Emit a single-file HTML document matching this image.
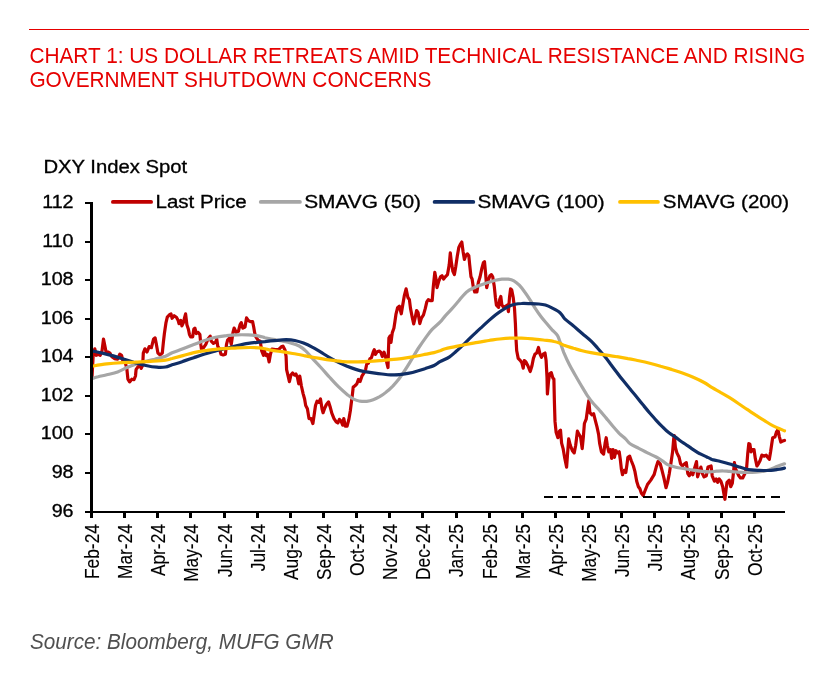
<!DOCTYPE html>
<html><head><meta charset="utf-8"><title>Chart 1</title>
<style>
html,body{margin:0;padding:0;background:#fff;}
body{width:840px;height:689px;position:relative;overflow:hidden;font-family:"Liberation Sans",Arial,sans-serif;}
.rule{position:absolute;left:29px;top:29px;width:780px;height:1px;background:#e60000;}
svg text{white-space:pre;}
</style></head><body>
<div class="rule"></div>
<svg width="840" height="689" viewBox="0 0 840 689" style="position:absolute;left:0;top:0">
<g font-family="Liberation Sans, Arial, sans-serif" font-size="20.83" fill="#e60000"><text transform="translate(29.4,62.95) scale(1,1.05)">CHART 1: US DOLLAR RETREATS AMID TECHNICAL RESISTANCE AND RISING</text><text transform="translate(29.4,86.9) scale(1,1.05)">GOVERNMENT SHUTDOWN CONCERNS</text></g><text transform="translate(30,649.4) scale(1,1.05)" font-family="Liberation Sans, Arial, sans-serif" font-size="20.7" font-style="italic" fill="#505050">Source: Bloomberg, MUFG GMR</text>
<g fill="none" stroke-linejoin="round" stroke-linecap="round" stroke-width="3.2">
<path d="M92.0 377.1 L93.3 353.1 L94.8 348.8 L96.3 355.3 L98.1 354.2 L100.2 355.3 L102.0 350.9 L103.5 339.0 L105.0 346.6 L106.3 353.1 L107.9 352.0 L110.0 353.1 L111.6 356.4 L114.4 358.6 L117.6 359.2 L119.8 354.2 L121.6 355.3 L123.1 361.8 L125.3 362.9 L126.8 368.4 L127.9 379.2 L129.6 381.9 L131.8 379.2 L134.0 379.7 L135.5 376.0 L136.1 369.4 L137.7 367.3 L139.4 362.9 L141.2 368.4 L142.7 365.1 L143.3 353.1 L144.9 348.8 L147.0 352.0 L149.2 346.6 L151.4 347.7 L153.6 339.0 L155.1 337.9 L156.4 344.4 L157.9 353.1 L160.1 354.9 L162.3 353.1 L163.4 342.2 L164.4 333.5 L166.0 322.6 L167.3 317.2 L169.9 314.4 L171.0 313.9 L172.1 318.3 L174.2 315.7 L176.4 317.2 L178.2 320.5 L179.0 323.7 L180.8 320.5 L181.9 325.9 L183.4 322.6 L184.7 317.2 L185.6 313.9 L186.9 324.8 L188.4 329.2 L189.5 334.6 L190.6 336.8 L192.7 336.8 L193.8 329.2 L194.9 328.1 L196.4 333.5 L198.2 332.4 L199.9 334.6 L200.8 344.4 L201.4 348.8 L203.6 347.7 L205.8 344.4 L208.0 339.0 L210.2 336.1 L211.2 341.1 L213.4 343.3 L215.6 342.2 L216.7 339.0 L217.8 346.6 L219.5 348.8 L221.0 354.2 L223.2 354.9 L225.4 354.2 L226.5 344.4 L227.6 340.1 L229.7 337.9 L231.3 344.4 L233.0 332.4 L234.1 328.1 L236.3 332.4 L238.4 331.4 L240.0 324.8 L241.3 322.6 L242.8 328.1 L245.0 327.0 L246.5 317.9 L248.2 320.5 L250.4 321.6 L252.6 321.6 L253.7 327.0 L254.8 333.5 L255.9 336.8 L258.0 340.1 L260.2 341.1 L261.7 350.9 L263.5 355.3 L264.4 351.1 L266.1 355.5 L267.6 354.4 L269.1 362.0 L270.4 354.4 L272.0 349.0 L275.2 349.6 L278.5 349.6 L281.3 346.8 L282.9 346.1 L285.0 350.1 L286.1 356.6 L286.6 369.6 L287.9 375.1 L289.4 381.6 L290.9 375.1 L292.6 372.9 L294.4 375.1 L295.9 374.0 L297.4 377.3 L298.7 383.8 L299.8 376.2 L301.4 386.0 L303.1 393.6 L304.6 399.0 L305.7 405.6 L307.4 408.8 L309.0 418.6 L311.1 418.6 L312.9 423.6 L314.4 413.2 L315.5 405.6 L317.0 401.2 L318.8 402.3 L320.5 399.0 L322.0 408.8 L323.1 412.7 L324.9 407.7 L326.4 404.5 L328.6 401.9 L330.1 406.7 L331.8 413.2 L334.0 418.6 L336.2 421.9 L337.9 423.0 L339.4 419.3 L341.0 420.8 L342.7 425.2 L343.8 418.6 L345.3 426.2 L347.1 426.2 L348.8 419.7 L350.3 411.0 L351.4 402.3 L352.5 393.6 L353.2 387.1 L354.7 386.0 L356.9 383.8 L358.4 379.4 L360.1 381.6 L361.9 376.2 L364.0 372.9 L365.6 369.6 L366.7 364.2 L368.4 363.1 L369.9 358.8 L371.4 357.7 L373.2 352.2 L374.3 349.6 L375.4 354.4 L377.1 351.8 L379.3 351.1 L380.8 352.2 L382.3 356.6 L384.1 352.2 L385.8 357.7 L386.9 363.1 L388.0 367.5 L388.4 352.2 L388.9 338.1 L390.2 335.9 L391.0 342.4 L392.3 332.6 L393.9 328.3 L394.9 321.8 L396.0 314.1 L397.6 307.6 L399.3 306.1 L401.3 313.8 L402.9 304.0 L404.4 295.3 L406.1 288.8 L407.9 297.5 L409.4 299.6 L410.5 308.4 L412.2 317.1 L413.7 324.0 L415.3 317.1 L416.6 310.5 L418.1 312.7 L419.8 323.6 L421.4 318.1 L423.5 314.9 L425.3 308.4 L426.8 301.8 L428.3 299.6 L430.5 300.7 L432.2 300.7 L433.3 286.6 L434.8 272.4 L436.2 280.1 L437.0 287.7 L438.8 281.1 L440.5 276.8 L442.0 275.7 L443.6 279.0 L445.3 276.8 L447.5 274.6 L449.2 264.8 L450.3 252.9 L451.4 262.6 L452.9 271.4 L454.4 274.6 L455.7 267.0 L457.3 256.1 L458.8 247.4 L460.5 244.1 L461.8 242.0 L463.1 251.8 L464.4 259.4 L466.0 255.0 L467.5 253.9 L468.8 255.7 L469.7 264.8 L471.0 276.8 L472.1 279.0 L473.2 286.6 L474.7 292.0 L476.9 292.0 L478.4 282.2 L480.1 276.8 L481.9 268.1 L483.4 262.6 L484.5 261.6 L485.6 273.5 L486.7 287.7 L488.4 280.1 L489.9 275.7 L491.4 274.6 L492.7 276.8 L494.3 286.6 L495.4 297.5 L496.4 305.1 L498.6 307.3 L499.7 299.6 L500.8 296.4 L501.9 305.1 L503.6 307.3 L505.8 306.2 L507.3 305.1 L508.4 311.6 L509.5 297.5 L510.6 288.8 L511.7 289.9 L513.2 297.5 L514.5 308.4 L515.4 323.6 L516.0 338.8 L516.7 350.8 L518.2 358.4 L520.4 360.6 L521.9 362.8 L523.2 368.2 L524.3 360.6 L525.8 361.7 L528.0 366.0 L530.2 371.5 L531.9 366.0 L533.4 358.4 L535.0 354.1 L536.7 353.0 L538.5 347.5 L540.0 354.1 L541.5 357.3 L543.2 354.1 L545.0 353.0 L546.1 360.6 L547.0 377.1 L547.4 394.0 L548.5 381.4 L549.6 373.8 L551.3 372.7 L552.9 378.1 L553.9 379.2 L554.4 401.8 L555.0 421.4 L556.1 432.2 L557.9 437.7 L559.4 431.1 L560.5 430.1 L561.6 443.1 L563.1 448.6 L564.8 458.4 L566.6 467.1 L567.4 456.2 L568.7 438.8 L570.3 445.3 L572.4 450.7 L574.2 452.9 L575.7 445.3 L577.4 431.1 L579.0 434.4 L580.5 436.6 L582.2 448.6 L583.3 437.7 L584.4 423.5 L586.2 419.2 L587.7 408.3 L588.8 400.7 L589.9 412.6 L592.0 414.8 L593.6 413.7 L595.3 420.3 L597.0 426.8 L598.6 434.4 L599.6 443.1 L601.4 451.8 L603.6 454.0 L605.1 443.1 L606.2 437.7 L607.3 445.3 L608.8 451.8 L610.5 449.6 L611.6 458.4 L613.1 449.6 L614.4 457.3 L616.0 450.7 L617.5 452.9 L619.2 451.8 L620.3 459.4 L621.4 469.2 L622.5 474.7 L624.0 470.3 L625.8 472.5 L626.9 464.9 L627.9 457.3 L629.7 456.2 L631.2 460.5 L633.4 466.0 L634.9 471.4 L636.7 481.2 L638.4 486.7 L639.9 488.8 L641.4 493.2 L643.2 495.4 L644.9 491.0 L647.5 484.5 L650.8 480.1 L654.1 474.7 L656.2 467.1 L658.0 461.6 L660.2 463.8 L661.7 469.2 L663.9 477.9 L666.0 487.7 L667.6 482.3 L669.3 473.6 L671.0 462.7 L672.6 451.8 L673.7 438.8 L674.3 435.5 L675.4 447.5 L676.9 452.9 L679.1 457.3 L680.6 463.8 L682.4 466.0 L684.5 463.8 L686.3 462.7 L687.8 473.6 L689.3 475.8 L691.1 472.5 L692.8 474.7 L694.3 469.2 L696.5 461.6 L697.6 476.9 L699.3 471.4 L700.9 467.1 L702.4 473.6 L704.1 476.9 L706.3 475.8 L708.0 467.1 L711.1 466.0 L712.2 475.8 L714.4 481.2 L716.2 479.0 L717.7 482.3 L719.2 479.0 L720.9 481.2 L722.7 486.7 L723.8 493.2 L724.9 499.3 L725.9 491.0 L727.0 482.3 L729.2 480.1 L730.7 486.7 L732.3 483.4 L733.6 471.4 L734.4 462.7 L735.7 469.2 L737.3 472.5 L738.8 475.8 L740.5 477.9 L742.7 477.9 L744.9 473.6 L746.6 468.1 L747.7 454.0 L748.8 443.6 L749.9 444.2 L751.0 451.8 L752.5 449.6 L754.0 449.6 L755.3 458.4 L756.9 466.0 L758.4 463.8 L760.1 460.5 L761.9 455.1 L764.0 456.2 L766.2 455.1 L767.7 457.3 L769.3 459.4 L770.6 451.8 L771.7 444.2 L772.7 437.7 L774.9 437.0 L776.4 432.2 L778.0 429.6 L779.3 436.6 L780.8 442.0 L783.0 440.9 L784.5 440.5" stroke="#c00000"/>
<path d="M92.0 378.6 C93.0 378.3 95.6 377.3 98.1 376.7 C100.5 376.0 103.5 375.6 106.8 374.8 C110.0 374.0 114.4 373.1 117.6 371.9 C120.9 370.7 123.5 369.1 126.4 367.8 C129.3 366.6 132.2 365.4 135.1 364.4 C138.0 363.4 140.5 362.8 143.8 361.9 C147.0 361.1 151.0 360.2 154.6 359.3 C158.3 358.3 162.6 357.3 165.5 356.3 C168.4 355.2 169.2 354.1 172.1 352.8 C175.0 351.6 179.3 350.2 182.9 348.8 C186.6 347.4 190.2 345.9 193.8 344.5 C197.5 343.1 201.1 341.6 204.7 340.4 C208.3 339.2 212.0 338.0 215.6 337.2 C219.2 336.4 222.8 336.1 226.5 335.7 C230.1 335.2 233.7 334.9 237.4 334.8 C241.0 334.7 244.6 334.7 248.2 334.9 C251.9 335.1 256.3 335.6 259.1 336.1 C261.9 336.6 262.7 337.1 265.0 337.7 C267.3 338.2 270.3 338.8 273.1 339.4 C275.9 340.0 278.9 340.4 281.8 341.0 C284.7 341.6 287.6 342.0 290.5 342.9 C293.4 343.7 296.6 344.6 299.2 346.0 C301.7 347.3 303.5 348.8 305.7 350.9 C307.9 352.9 309.7 355.5 312.2 358.2 C314.8 361.0 318.0 364.3 320.9 367.5 C323.8 370.6 326.7 374.1 329.6 377.3 C332.6 380.5 335.5 383.8 338.4 386.7 C341.3 389.5 344.5 392.3 347.1 394.4 C349.6 396.4 351.4 398.0 353.6 399.1 C355.8 400.2 357.9 400.8 360.1 401.2 C362.3 401.5 364.5 401.5 366.7 401.3 C368.8 401.0 371.0 400.5 373.2 399.7 C375.4 398.9 377.5 397.8 379.7 396.6 C381.9 395.3 384.1 393.9 386.2 392.1 C388.4 390.4 390.6 388.4 392.8 386.1 C394.9 383.8 397.1 381.2 399.3 378.4 C401.5 375.5 403.7 372.3 405.8 368.9 C408.0 365.5 410.2 361.7 412.4 358.2 C414.5 354.6 416.7 350.8 418.9 347.5 C421.1 344.2 423.2 341.1 425.4 338.1 C427.6 335.1 429.5 332.3 431.9 329.7 C434.4 327.0 437.8 324.5 440.0 322.2 C442.2 319.9 443.3 318.0 445.3 315.8 C447.3 313.6 449.6 311.3 451.8 308.9 C454.0 306.5 456.4 303.6 458.4 301.3 C460.4 298.9 462.0 296.6 463.8 294.8 C465.6 292.9 467.2 291.4 469.2 290.1 C471.2 288.8 473.6 287.8 475.8 286.9 C477.9 285.9 480.1 285.2 482.3 284.4 C484.5 283.6 486.7 282.9 488.8 282.2 C491.0 281.6 493.2 280.8 495.4 280.3 C497.5 279.8 499.7 279.4 501.9 279.2 C504.1 279.1 506.4 279.0 508.4 279.2 C510.4 279.5 512.0 279.9 513.9 280.9 C515.7 281.9 517.5 283.4 519.3 285.2 C521.1 287.1 522.9 289.5 524.7 292.0 C526.6 294.5 528.4 297.4 530.2 300.2 C532.0 303.0 533.8 306.1 535.6 308.9 C537.4 311.7 539.3 314.4 541.1 316.8 C542.9 319.2 544.7 321.2 546.5 323.3 C548.3 325.5 550.1 327.6 551.9 329.6 C553.8 331.6 556.0 333.2 557.4 335.3 C558.7 337.3 558.9 339.0 560.0 341.9 C561.1 344.7 562.2 348.5 563.7 352.3 C565.3 356.0 567.2 360.3 569.2 364.3 C571.2 368.2 573.5 372.2 575.7 376.0 C577.9 379.8 580.2 383.8 582.2 387.1 C584.2 390.5 585.9 393.4 587.7 396.1 C589.5 398.8 591.1 400.8 593.1 403.2 C595.1 405.5 597.5 407.8 599.6 410.3 C601.8 412.7 604.0 415.5 606.2 418.1 C608.4 420.8 610.5 423.5 612.7 426.0 C614.9 428.6 617.1 431.1 619.2 433.3 C621.4 435.5 624.0 437.4 625.8 439.2 C627.6 440.9 627.9 442.2 630.1 443.7 C632.3 445.2 635.9 446.8 638.8 448.3 C641.7 449.8 644.6 451.5 647.5 452.9 C650.4 454.4 653.7 455.6 656.2 457.0 C658.8 458.4 660.8 459.8 662.8 461.1 C664.8 462.4 666.0 463.9 668.2 464.9 C670.4 465.9 673.1 466.6 675.8 467.2 C678.5 467.9 681.6 468.2 684.5 468.7 C687.4 469.2 690.3 469.8 693.2 470.2 C696.1 470.7 699.2 471.1 701.9 471.4 C704.7 471.7 707.6 471.9 710.0 471.9 C712.4 471.8 714.4 471.4 716.6 471.2 C718.8 471.0 720.9 470.7 723.1 470.8 C725.3 470.8 727.1 471.2 729.6 471.4 C732.2 471.7 735.5 472.0 738.4 472.2 C741.3 472.4 744.2 472.5 747.1 472.5 C750.0 472.5 752.9 472.5 755.8 472.2 C758.7 472.0 761.9 471.7 764.5 471.1 C767.0 470.6 768.8 469.8 771.0 469.0 C773.2 468.1 775.3 467.1 777.5 466.2 C779.8 465.4 783.3 464.2 784.5 463.8" stroke="#a6a6a6"/>
<path d="M92.0 350.9 C93.7 351.3 98.9 352.2 102.4 353.1 C106.0 353.9 109.7 354.9 113.3 355.9 C116.9 357.0 120.6 358.2 124.2 359.3 C127.8 360.4 131.4 361.7 135.1 362.7 C138.7 363.7 142.3 364.8 145.9 365.5 C149.6 366.3 153.6 367.0 156.8 367.2 C160.1 367.5 163.0 367.4 165.5 367.0 C168.1 366.7 169.2 365.8 172.1 364.8 C175.0 363.9 179.3 362.6 182.9 361.4 C186.6 360.3 190.2 358.9 193.8 357.7 C197.5 356.4 201.1 355.1 204.7 354.0 C208.3 352.9 212.0 351.9 215.6 350.9 C219.2 350.0 222.8 349.2 226.5 348.3 C230.1 347.4 233.7 346.4 237.4 345.6 C241.0 344.8 244.6 344.0 248.2 343.4 C251.9 342.8 256.3 342.4 259.1 342.1 C261.9 341.8 263.4 341.7 265.0 341.6 C266.6 341.4 266.6 341.4 268.7 341.1 C270.8 340.9 274.5 340.5 277.4 340.3 C280.3 340.0 283.2 339.7 286.1 339.7 C289.0 339.8 291.9 340.0 294.8 340.5 C297.7 341.1 300.6 341.9 303.5 343.0 C306.4 344.1 309.3 345.5 312.2 347.1 C315.1 348.6 318.0 350.5 320.9 352.2 C323.8 354.0 326.7 355.9 329.6 357.6 C332.6 359.3 335.5 360.9 338.4 362.4 C341.3 363.8 344.2 365.1 347.1 366.3 C350.0 367.4 352.9 368.5 355.8 369.4 C358.7 370.3 361.6 371.0 364.5 371.6 C367.4 372.1 370.3 372.5 373.2 372.9 C376.1 373.3 379.0 373.7 381.9 374.0 C384.8 374.3 387.7 374.7 390.6 374.8 C393.5 374.9 396.4 374.9 399.3 374.7 C402.2 374.5 405.1 374.0 408.0 373.4 C410.9 372.8 413.8 372.1 416.7 371.2 C419.6 370.4 422.5 369.4 425.4 368.5 C428.3 367.5 431.7 366.6 434.1 365.5 C436.6 364.3 437.4 363.2 440.0 361.7 C442.6 360.3 447.0 358.5 449.6 356.8 C452.3 355.0 454.0 353.2 456.2 351.3 C458.4 349.4 460.5 347.4 462.7 345.4 C464.9 343.3 467.1 341.0 469.2 338.8 C471.4 336.7 473.6 334.6 475.8 332.6 C477.9 330.5 480.1 328.6 482.3 326.6 C484.5 324.6 486.7 322.5 488.8 320.6 C491.0 318.7 493.2 316.8 495.4 315.0 C497.5 313.3 499.7 311.7 501.9 310.3 C504.1 308.9 506.2 307.6 508.4 306.6 C510.6 305.6 512.8 304.9 514.9 304.3 C517.1 303.8 518.9 303.6 521.5 303.5 C524.0 303.3 527.3 303.5 530.2 303.6 C533.1 303.7 536.3 303.8 538.9 304.0 C541.4 304.2 543.2 304.4 545.4 305.0 C547.6 305.7 549.5 306.6 551.9 307.9 C554.4 309.2 557.9 310.9 560.0 312.7 C562.1 314.6 562.6 316.6 564.8 318.8 C567.1 321.0 570.6 323.5 573.5 325.9 C576.4 328.4 579.3 331.0 582.2 333.5 C585.1 336.0 588.4 338.5 590.9 340.9 C593.5 343.3 595.3 345.5 597.5 348.0 C599.6 350.4 601.8 352.9 604.0 355.6 C606.2 358.2 608.4 361.1 610.5 364.0 C612.7 366.9 614.9 369.9 617.1 372.7 C619.2 375.6 621.4 378.4 623.6 381.1 C625.8 383.9 627.9 386.4 630.1 389.0 C632.3 391.7 634.5 394.2 636.7 396.9 C638.8 399.6 641.0 402.4 643.2 405.1 C645.4 407.8 647.5 410.4 649.7 413.0 C651.9 415.5 654.1 418.0 656.2 420.3 C658.4 422.7 660.6 425.0 662.8 427.1 C664.9 429.3 667.1 431.4 669.3 433.1 C671.5 434.8 674.0 436.1 675.8 437.4 C677.6 438.7 678.4 439.5 680.2 440.8 C682.0 442.1 684.5 443.6 686.7 445.1 C688.9 446.5 691.1 448.2 693.2 449.6 C695.4 451.1 697.6 452.6 699.8 453.7 C701.9 454.9 704.6 456.0 706.3 456.7 C708.0 457.5 709.0 457.9 710.0 458.4 C711.0 458.8 710.8 459.1 712.2 459.6 C713.7 460.0 716.6 460.5 718.8 461.0 C720.9 461.5 723.1 462.1 725.3 462.7 C727.5 463.3 729.6 463.9 731.8 464.6 C734.0 465.2 736.2 466.0 738.4 466.7 C740.5 467.4 742.7 468.2 744.9 468.7 C747.1 469.3 749.2 469.6 751.4 469.8 C753.6 470.1 755.8 470.2 757.9 470.3 C760.1 470.4 762.3 470.6 764.5 470.5 C766.7 470.5 768.8 470.5 771.0 470.3 C773.2 470.1 775.3 469.8 777.5 469.5 C779.8 469.1 783.3 468.4 784.5 468.1" stroke="#102e66"/>
<path d="M92.0 366.2 C94.4 365.8 101.8 364.5 106.8 363.9 C111.8 363.3 117.3 362.9 122.0 362.6 C126.7 362.4 130.3 362.4 135.1 362.2 C139.8 361.9 145.2 361.7 150.3 361.3 C155.4 361.0 161.9 360.7 165.5 360.2 C169.2 359.7 169.2 359.2 172.1 358.5 C175.0 357.7 179.3 356.6 182.9 355.6 C186.6 354.7 189.8 353.5 193.8 352.6 C197.8 351.7 202.5 350.9 206.9 350.3 C211.2 349.6 214.9 349.2 219.9 348.8 C225.0 348.4 232.3 348.1 237.4 347.8 C242.4 347.6 246.8 347.5 250.4 347.5 C254.0 347.5 256.7 347.6 259.1 347.8 C261.6 348.1 263.0 348.4 265.0 348.8 C267.0 349.2 268.1 349.7 270.9 350.2 C273.7 350.7 278.1 351.2 281.8 351.7 C285.4 352.3 289.0 352.9 292.6 353.5 C296.3 354.1 299.9 354.8 303.5 355.5 C307.2 356.2 310.8 356.9 314.4 357.5 C318.0 358.1 321.7 358.7 325.3 359.3 C328.9 359.8 332.6 360.4 336.2 360.8 C339.8 361.2 343.4 361.6 347.1 361.8 C350.7 361.9 354.3 362.0 357.9 361.9 C361.6 361.9 365.2 361.7 368.8 361.4 C372.5 361.2 376.1 360.9 379.7 360.6 C383.3 360.3 387.0 360.1 390.6 359.7 C394.2 359.4 397.8 359.1 401.5 358.6 C405.1 358.1 408.7 357.6 412.4 356.9 C416.0 356.3 419.6 355.5 423.2 354.7 C426.9 354.0 431.3 353.3 434.1 352.6 C436.9 352.0 438.1 351.4 440.0 350.8 C441.9 350.1 442.6 349.4 445.3 348.7 C448.0 348.0 452.6 347.2 456.2 346.4 C459.8 345.7 463.4 345.0 467.1 344.3 C470.7 343.6 474.3 342.9 477.9 342.3 C481.6 341.6 485.2 341.1 488.8 340.5 C492.5 340.0 496.1 339.4 499.7 339.0 C503.3 338.6 507.0 338.2 510.6 338.1 C514.2 338.0 517.8 338.1 521.5 338.2 C525.1 338.4 528.7 338.6 532.4 338.9 C536.0 339.2 539.6 339.6 543.2 340.0 C546.9 340.5 551.3 340.9 554.1 341.5 C556.9 342.0 558.2 342.6 560.0 343.3 C561.8 344.0 562.6 344.8 564.8 345.6 C567.1 346.5 570.6 347.4 573.5 348.3 C576.4 349.1 579.3 350.0 582.2 350.7 C585.1 351.5 588.0 352.1 590.9 352.6 C593.8 353.2 596.7 353.7 599.6 354.1 C602.6 354.5 605.5 354.9 608.4 355.3 C611.3 355.7 613.8 356.1 617.1 356.7 C620.3 357.2 624.3 357.9 627.9 358.6 C631.6 359.2 635.2 360.0 638.8 360.7 C642.5 361.5 646.1 362.3 649.7 363.2 C653.3 364.1 657.0 365.1 660.6 366.2 C664.2 367.2 667.8 368.3 671.5 369.4 C675.1 370.6 678.7 371.7 682.4 373.0 C686.0 374.3 689.6 375.7 693.2 377.3 C696.9 378.9 701.0 380.8 704.1 382.5 C707.3 384.2 709.4 386.0 712.2 387.7 C715.0 389.4 718.0 390.9 720.9 392.6 C723.8 394.2 726.7 395.9 729.6 397.7 C732.6 399.6 735.5 401.5 738.4 403.5 C741.3 405.4 744.2 407.5 747.1 409.4 C750.0 411.4 752.9 413.3 755.8 415.2 C758.7 417.0 761.6 418.8 764.5 420.6 C767.4 422.4 769.8 424.2 773.2 425.9 C776.5 427.6 782.6 430.0 784.5 430.8" stroke="#ffc000"/>
</g>
<g fill="#000" shape-rendering="crispEdges"><rect x="544" y="496" width="9" height="2"/><rect x="558" y="496" width="9" height="2"/><rect x="572" y="496" width="9" height="2"/><rect x="586" y="496" width="9" height="2"/><rect x="601" y="496" width="9" height="2"/><rect x="615" y="496" width="9" height="2"/><rect x="629" y="496" width="9" height="2"/><rect x="643" y="496" width="9" height="2"/><rect x="657" y="496" width="9" height="2"/><rect x="671" y="496" width="9" height="2"/><rect x="686" y="496" width="9" height="2"/><rect x="700" y="496" width="9" height="2"/><rect x="714" y="496" width="9" height="2"/><rect x="728" y="496" width="9" height="2"/><rect x="742" y="496" width="9" height="2"/><rect x="756" y="496" width="9" height="2"/><rect x="771" y="496" width="9" height="2"/></g>
<g fill="#000" shape-rendering="crispEdges">
<rect x="90" y="202" width="3" height="316"/>
<rect x="85" y="511" width="700" height="2"/>
<rect x="85" y="202" width="6" height="2"/>
<rect x="85" y="241" width="6" height="2"/>
<rect x="85" y="279" width="6" height="2"/>
<rect x="85" y="318" width="6" height="2"/>
<rect x="85" y="356" width="6" height="2"/>
<rect x="85" y="395" width="6" height="2"/>
<rect x="85" y="433" width="6" height="2"/>
<rect x="85" y="472" width="6" height="2"/>
<rect x="123" y="512" width="3" height="6"/>
<rect x="156" y="512" width="3" height="6"/>
<rect x="189" y="512" width="3" height="6"/>
<rect x="223" y="512" width="3" height="6"/>
<rect x="256" y="512" width="3" height="6"/>
<rect x="289" y="512" width="3" height="6"/>
<rect x="322" y="512" width="3" height="6"/>
<rect x="355" y="512" width="3" height="6"/>
<rect x="388" y="512" width="3" height="6"/>
<rect x="421" y="512" width="3" height="6"/>
<rect x="455" y="512" width="3" height="6"/>
<rect x="488" y="512" width="3" height="6"/>
<rect x="521" y="512" width="3" height="6"/>
<rect x="554" y="512" width="3" height="6"/>
<rect x="587" y="512" width="3" height="6"/>
<rect x="620" y="512" width="3" height="6"/>
<rect x="653" y="512" width="3" height="6"/>
<rect x="687" y="512" width="3" height="6"/>
<rect x="720" y="512" width="3" height="6"/>
<rect x="753" y="512" width="3" height="6"/>
</g>
<g font-family="Liberation Sans, Arial, sans-serif" font-size="17.33" fill="#000" stroke="#000" stroke-width="0.3">
<text transform="translate(73.6,208.2) scale(1.140,1.07)" text-anchor="end">112</text>
<text transform="translate(73.6,247.2) scale(1.140,1.07)" text-anchor="end">110</text>
<text transform="translate(73.6,285.2) scale(1.140,1.07)" text-anchor="end">108</text>
<text transform="translate(73.6,324.2) scale(1.140,1.07)" text-anchor="end">106</text>
<text transform="translate(73.6,362.2) scale(1.140,1.07)" text-anchor="end">104</text>
<text transform="translate(73.6,401.2) scale(1.140,1.07)" text-anchor="end">102</text>
<text transform="translate(73.6,439.2) scale(1.140,1.07)" text-anchor="end">100</text>
<text transform="translate(73.6,478.2) scale(1.140,1.07)" text-anchor="end">98</text>
<text transform="translate(73.6,517.2) scale(1.140,1.07)" text-anchor="end">96</text>
<text transform="translate(98.9,524.1) scale(1.175,1) rotate(-90)" text-anchor="end" stroke-width="0.1">Feb-24</text>
<text transform="translate(132.0,524.1) scale(1.175,1) rotate(-90)" text-anchor="end" stroke-width="0.1">Mar-24</text>
<text transform="translate(165.2,524.1) scale(1.175,1) rotate(-90)" text-anchor="end" stroke-width="0.1">Apr-24</text>
<text transform="translate(198.3,524.1) scale(1.175,1) rotate(-90)" text-anchor="end" stroke-width="0.1">May-24</text>
<text transform="translate(231.5,524.1) scale(1.175,1) rotate(-90)" text-anchor="end" stroke-width="0.1">Jun-24</text>
<text transform="translate(264.6,524.1) scale(1.175,1) rotate(-90)" text-anchor="end" stroke-width="0.1">Jul-24</text>
<text transform="translate(297.7,524.1) scale(1.175,1) rotate(-90)" text-anchor="end" stroke-width="0.1">Aug-24</text>
<text transform="translate(330.9,524.1) scale(1.175,1) rotate(-90)" text-anchor="end" stroke-width="0.1">Sep-24</text>
<text transform="translate(364.0,524.1) scale(1.175,1) rotate(-90)" text-anchor="end" stroke-width="0.1">Oct-24</text>
<text transform="translate(397.2,524.1) scale(1.175,1) rotate(-90)" text-anchor="end" stroke-width="0.1">Nov-24</text>
<text transform="translate(430.3,524.1) scale(1.175,1) rotate(-90)" text-anchor="end" stroke-width="0.1">Dec-24</text>
<text transform="translate(463.4,524.1) scale(1.175,1) rotate(-90)" text-anchor="end" stroke-width="0.1">Jan-25</text>
<text transform="translate(496.6,524.1) scale(1.175,1) rotate(-90)" text-anchor="end" stroke-width="0.1">Feb-25</text>
<text transform="translate(529.7,524.1) scale(1.175,1) rotate(-90)" text-anchor="end" stroke-width="0.1">Mar-25</text>
<text transform="translate(562.9,524.1) scale(1.175,1) rotate(-90)" text-anchor="end" stroke-width="0.1">Apr-25</text>
<text transform="translate(596.0,524.1) scale(1.175,1) rotate(-90)" text-anchor="end" stroke-width="0.1">May-25</text>
<text transform="translate(629.1,524.1) scale(1.175,1) rotate(-90)" text-anchor="end" stroke-width="0.1">Jun-25</text>
<text transform="translate(662.3,524.1) scale(1.175,1) rotate(-90)" text-anchor="end" stroke-width="0.1">Jul-25</text>
<text transform="translate(695.4,524.1) scale(1.175,1) rotate(-90)" text-anchor="end" stroke-width="0.1">Aug-25</text>
<text transform="translate(728.6,524.1) scale(1.175,1) rotate(-90)" text-anchor="end" stroke-width="0.1">Sep-25</text>
<text transform="translate(761.7,524.1) scale(1.175,1) rotate(-90)" text-anchor="end" stroke-width="0.1">Oct-25</text>
<text transform="translate(43.4,172.9) scale(1.168,1.07)" text-anchor="start">DXY Index Spot</text>
<line x1="112.9" y1="201.9" x2="151.1" y2="201.9" stroke="#c00000" stroke-width="3.8" stroke-linecap="round"/>
<text transform="translate(155.5,207.9) scale(1.185,1.07)" text-anchor="start">Last Price</text>
<line x1="260.8" y1="201.9" x2="299.9" y2="201.9" stroke="#a6a6a6" stroke-width="3.8" stroke-linecap="round"/>
<text transform="translate(304.2,207.9) scale(1.205,1.07)" text-anchor="start">SMAVG (50)</text>
<line x1="434.6" y1="201.9" x2="473.3" y2="201.9" stroke="#102e66" stroke-width="3.8" stroke-linecap="round"/>
<text transform="translate(477.4,207.9) scale(1.195,1.07)" text-anchor="start">SMAVG (100)</text>
<line x1="620.0" y1="201.9" x2="657.9" y2="201.9" stroke="#ffc000" stroke-width="3.8" stroke-linecap="round"/>
<text transform="translate(662.8,207.9) scale(1.185,1.07)" text-anchor="start">SMAVG (200)</text>
</g>
</svg>
</body></html>
